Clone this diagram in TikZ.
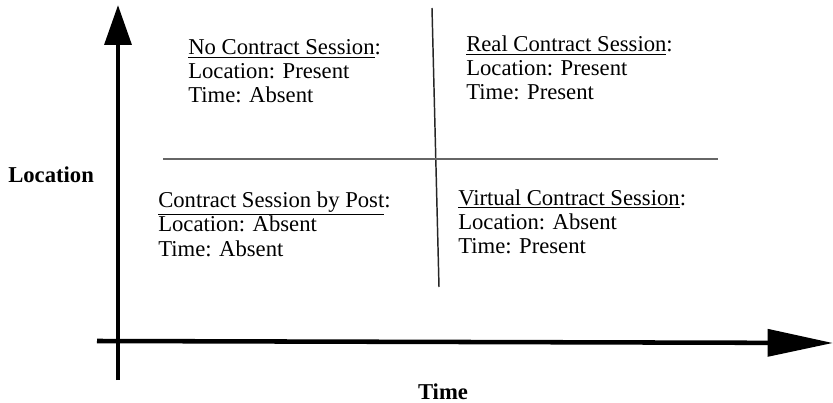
\documentclass[tikz,border=0pt]{standalone}
\usepackage{fontspec}
\setmainfont{Liberation Serif}
\usepackage{tikz}
\usetikzlibrary{arrows.meta}

\tikzset{
  axis/.style={line width=3.4pt, line cap=butt},
  quadrant/.style={anchor=base west, inner sep=0pt, align=left,
    font=\fontsize{17}{18}\selectfont},
  axislabel/.style={inner sep=0pt, font=\fontsize{17}{18}\selectfont\bfseries}
}

\begin{document}
\begin{tikzpicture}[x=0.75pt, y=-0.75pt]
\useasboundingbox (0,0) rectangle (833,403);

% ===== Axes =====
\coordinate (O1) at (118,380);
\coordinate (Ytip) at (118,5);
\coordinate (O2) at (97,341);
\coordinate (Xtip) at (833,343);

\draw[axis, -{Triangle[length=30pt, width=20pt]}] (O1) -- (Ytip);
\draw[axis, -{Triangle[length=49pt, width=20pt]}] (O2) -- (Xtip);

\node[axislabel, anchor=base west] (location) at (8,183) {Location};
\node[axislabel, anchor=base] (time) at (443,399) {Time};

% ===== Separations des quadrants =====
\coordinate (Vtop) at (432,8);
\coordinate (Vbot) at (439,287);
\coordinate (Hleft) at (163,159);
\coordinate (Hright) at (718,159);

\draw[line width=1.1pt, black!85] (Vtop) -- (Vbot);
\draw[line width=1.3pt, black!60] (Hleft) -- (Hright);

% ===== Quadrants (ancre = ligne de base de la derniere ligne) =====
\node[quadrant] (nocontract) at (188,103)
  {\underline{No Contract Session}:\\ Location: Present\\ Time: Absent};
\node[quadrant] (realcontract) at (466,100)
  {\underline{Real Contract Session}:\\ Location: Present\\ Time: Present};
\node[quadrant] (bypost) at (158,256)
  {\underline{Contract Session by Post}:\\ Location: Absent\\ Time: Absent};
\node[quadrant] (virtual) at (458,253)
  {\underline{Virtual Contract Session}:\\ Location: Absent\\ Time: Present};

\end{tikzpicture}
\end{document}
